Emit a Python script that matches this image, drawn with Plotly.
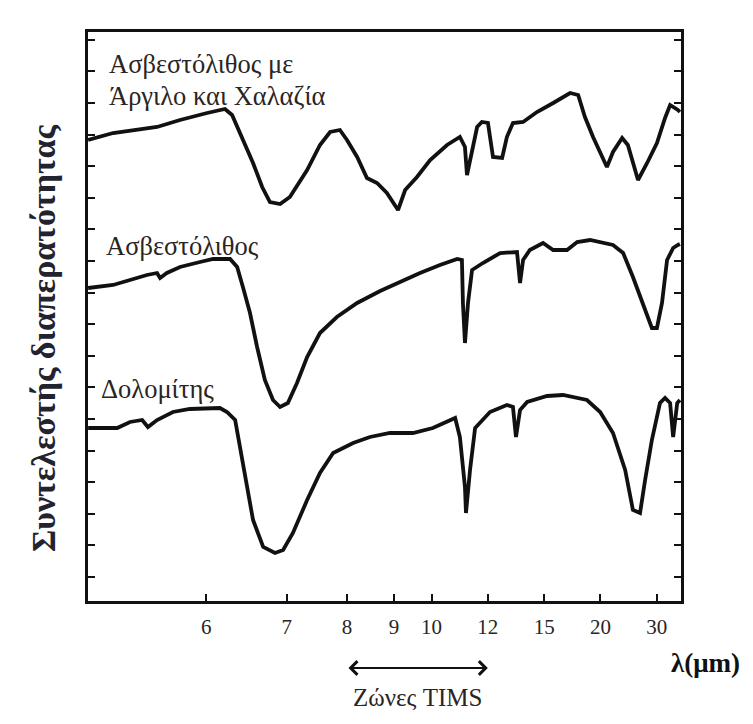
import plotly.graph_objects as go

# ---- data ----
# x: wavenumber (cm^-1); the axis is linear in wavenumber, labelled in wavelength (um)
lam_ticks = [6, 7, 8, 9, 10, 12, 15, 20, 30]
tims_band = [8, 12]  # um

# Limestone with clay and quartz (top curve), relative transmittance (arbitrary units)
wn_clay = [2016, 1942, 1812, 1744, 1664, 1611, 1590, 1558, 1528, 1501, 1478, 1448, 1419, 1368,
           1330, 1300, 1271, 1250, 1220, 1191, 1161, 1132, 1099, 1078, 1043, 1004, 954, 916,
           901, 895, 886, 865, 851, 833, 818, 791, 777, 759, 729, 688, 640, 590, 566, 546,
           522, 481, 463, 436, 419, 389, 362, 333, 309, 294, 271, 265]
t_clay = [461, 468, 474, 481, 488, 492, 486, 461, 438, 414, 399, 397, 404, 431,
          456, 469, 471, 461, 444, 423, 418, 408, 391, 411, 424, 441, 456, 464,
          454, 426, 441, 474, 479, 478, 444, 443, 464, 478, 479, 489, 498, 508, 506, 484,
          464, 434, 449, 463, 456, 421, 438, 458, 483, 496, 491, 489]

# Limestone (middle curve)
wn_lime = [2016, 1942, 1892, 1842, 1812, 1803, 1783, 1744, 1685, 1646, 1596, 1575, 1558, 1537,
           1516, 1493, 1469, 1448, 1425, 1398, 1368, 1330, 1280, 1220, 1152, 1102, 1034, 975,
           924, 910, 907, 901, 892, 880, 848, 797, 747, 738, 729, 709, 670, 640, 599, 569,
           531, 463, 433, 404, 374, 348, 333, 318, 303, 285, 271, 265]
t_lime = [313, 316, 321, 326, 328, 323, 328, 334, 339, 342, 342, 334, 314, 288,
          254, 221, 201, 194, 198, 218, 244, 268, 284, 298, 310, 318, 328, 336,
          342, 341, 298, 258, 298, 331, 338, 348, 349, 318, 341, 351, 358, 351, 351, 359,
          361, 356, 348, 324, 298, 273, 273, 298, 341, 353, 356, 357]

# Dolomite (bottom curve)
wn_dolo = [2016, 1930, 1892, 1856, 1839, 1812, 1765, 1715, 1626, 1605, 1581, 1566, 1546, 1528,
           1498, 1463, 1439, 1410, 1368, 1330, 1291, 1232, 1182, 1123, 1055, 996, 930, 916,
           901, 898, 886, 871, 827, 777, 759, 750, 738, 717, 658, 611, 540, 501, 463, 427,
           404, 383, 368, 348, 324, 309, 294, 285, 273, 265]
t_dolo = [173, 173, 179, 181, 174, 181, 189, 192, 193, 189, 181, 154, 114, 81,
          54, 48, 51, 68, 101, 128, 148, 158, 164, 168, 168, 173, 183, 164,
          114, 88, 131, 173, 189, 196, 194, 164, 191, 199, 205, 206, 201, 189, 168, 131,
          91, 88, 121, 161, 198, 203, 198, 164, 198, 201]

curve_names = ["Ασβεστόλιθος με Άργιλο και Χαλαζία", "Ασβεστόλιθος", "Δολομίτης"]

# ---- figure ----
W, H = 753, 724
L, R, T, B = 88, 72, 32, 123
pw, ph = W - L - R, H - T - B
ink = "#111111"
txt = "#2a2522"
serif = "Liberation Serif"

fig = go.Figure()
for name, xs, ys in zip(curve_names, [wn_clay, wn_lime, wn_dolo], [t_clay, t_lime, t_dolo]):
    fig.add_trace(go.Scatter(x=xs, y=ys, mode="lines", name=name,
                             line=dict(color=ink, width=3.8), showlegend=False,
                             hoverinfo="skip"))

fig.update_layout(width=W, height=H, margin=dict(l=L, r=R, t=T, b=B),
                  plot_bgcolor="white", paper_bgcolor="white", showlegend=False)

fig.update_xaxes(range=[2016.3, 261.8],
                 tickvals=[10000 / v for v in lam_ticks],
                 ticktext=[str(v) for v in lam_ticks],
                 ticks="inside", ticklen=7, tickwidth=2, tickcolor=ink,
                 showline=True, linewidth=3, linecolor=ink, mirror=True,
                 showgrid=False, zeroline=False, ticklabelstandoff=5,
                 tickfont=dict(family=serif, size=21, color=txt))
fig.update_yaxes(range=[0, 569], tick0=24, dtick=31.6,
                 ticks="inside", ticklen=7, tickwidth=2, tickcolor=ink,
                 showticklabels=False, showline=True, linewidth=3, linecolor=ink,
                 mirror="ticks", showgrid=False, zeroline=False)

def px2paper_x(px):
    return (px - L) / pw

def py2paper_y(py):
    return (H - B - py) / ph

ann = []
# curve labels
ann.append(dict(text="Ασβεστόλιθος με", x=px2paper_x(107), y=py2paper_y(64)))
ann.append(dict(text="Άργιλο και Χαλαζία", x=px2paper_x(107), y=py2paper_y(96)))
ann.append(dict(text="Ασβεστόλιθος", x=px2paper_x(104), y=py2paper_y(246)))
ann.append(dict(text="Δολομίτης", x=px2paper_x(99), y=py2paper_y(389)))
for a in ann:
    fig.add_annotation(xref="paper", yref="paper", xanchor="left", yanchor="middle",
                       showarrow=False, font=dict(family=serif, size=26.5, color=txt), **a)

# y axis title
fig.add_annotation(text="<b>Συντελεστής διαπερατότητας</b>", xref="paper", yref="paper",
                   x=px2paper_x(43), y=py2paper_y(338), textangle=-90,
                   xanchor="center", yanchor="middle", showarrow=False,
                   font=dict(family=serif, size=34, color="#22232e"))
# x axis unit
fig.add_annotation(text="<b>λ(μm)</b>", xref="paper", yref="paper",
                   x=px2paper_x(705), y=py2paper_y(663), xanchor="center", yanchor="middle",
                   showarrow=False, font=dict(family=serif, size=27, color=ink))
# TIMS band arrow
fig.add_annotation(text="", xref="x", yref="paper",
                   x=10000 / tims_band[1], y=py2paper_y(668),
                   axref="x", ax=10000 / tims_band[0], ayref="pixel", ay=0,
                   showarrow=True, arrowside="end+start", arrowhead=4, arrowsize=1.2,
                   arrowwidth=2.2, arrowcolor=ink, standoff=0, startstandoff=0)
fig.add_annotation(text="Ζώνες TIMS", xref="x", yref="paper",
                   x=(10000 / tims_band[0] + 10000 / tims_band[1]) / 2, y=py2paper_y(697),
                   xanchor="center", yanchor="middle", showarrow=False,
                   font=dict(family=serif, size=25, color=txt))

fig.write_html("out.html")
